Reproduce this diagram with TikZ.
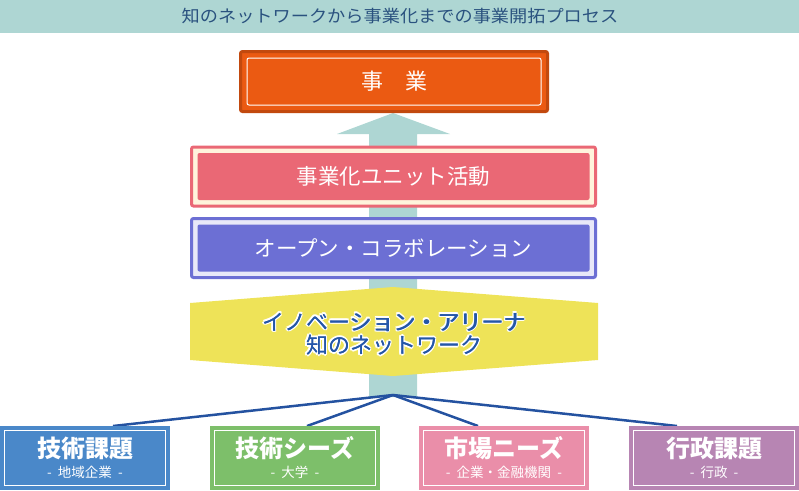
\documentclass[tikz,border=0pt]{standalone}
\usepackage{fontspec}
\setmainfont{Noto Sans CJK JP}
\usetikzlibrary{calc,backgrounds}
\definecolor{arrowteal}{HTML}{AED6D3}
\definecolor{titleblue}{HTML}{2A527F}
\definecolor{bizorange}{HTML}{EB5A12}
\definecolor{bizorangedark}{HTML}{C2490E}
\definecolor{unitred}{HTML}{EA6875}
\definecolor{unitcream}{HTML}{FFF4DC}
\definecolor{collabblue}{HTML}{6C6FD4}
\definecolor{collabring}{HTML}{E8E8F8}
\definecolor{arenayellow}{HTML}{EEE358}
\definecolor{arenatext}{HTML}{2456A8}
\definecolor{linkblue}{HTML}{2452A0}
\definecolor{techblue}{HTML}{4A88C9}
\definecolor{seedgreen}{HTML}{7DBF6A}
\definecolor{marketpink}{HTML}{EA8EA9}
\definecolor{govpurple}{HTML}{B785B3}
\tikzset{
  stagebox/.style 2 args={draw=#1, fill=#2, line width=3pt, rounded corners=2pt,
    outer sep=0pt, inner sep=0pt, minimum width=404pt, minimum height=59pt,
    text=white, font=\fontsize{21.5}{24}\selectfont,
    path picture={\fill[#1] ($(path picture bounding box.north west)+(6,6)$) rectangle ($(path picture bounding box.south east)+(-6,-6)$);}},
  seedbox/.style={fill=#1, outer sep=0pt, inner sep=0pt, minimum width=170pt, minimum height=64pt,
    path picture={\draw[white, line width=0.9pt] ($(path picture bounding box.north west)+(4.5,4.5)$) rectangle ($(path picture bounding box.south east)+(-4.5,-4.5)$);}},
  seedtitle/.style={text=white, inner sep=0pt, font=\fontsize{24}{26}\selectfont\bfseries},
  seedsub/.style={text=white, inner sep=0pt, font=\fontsize{13.5}{15}\selectfont},
  arenafont/.style={inner sep=0pt, align=center, font=\fontsize{22}{23.5}\selectfont},
  link/.style={draw=linkblue, line width=2.5pt}
}
\newcommand{\arenalines}{イノベーション・アリーナ\\知のネットワーク}
\newcommand{\subgap}{\hspace{0.45em}}
\begin{document}
\begin{tikzpicture}[x=1pt,y=-1pt]
\useasboundingbox (0,0) rectangle (799,490);
% title band
\fill[arrowteal] (0,0) rectangle (799,33);
\node[text=titleblue, inner sep=0pt, font=\fontsize{17}{20}\selectfont] (title) at (400,16.5)
  {\scalebox{1.07}[1]{知のネットワークから事業化までの事業開拓プロセス}};
% top box
\node[draw=bizorangedark, fill=bizorange, line width=3pt, rounded corners=2pt, outer sep=0pt, inner sep=0pt,
  minimum width=307pt, minimum height=60pt, text=white, font=\fontsize{22}{24}\selectfont,
  path picture={\draw[white, line width=1pt] ($(path picture bounding box.north west)+(6.5,6.5)$) rectangle ($(path picture bounding box.south east)+(-6.5,-6.5)$);}]
  (biz) at (394,81.5) {事　業};
% stage boxes
\node[stagebox={unitred}{unitcream}] (unit) at (393.5,176.5) {事業化ユニット活動};
\node[stagebox={collabblue}{collabring}] (collab) at (393.5,248) {オープン・コラボレーション};
% arena hexagon
\fill[arenayellow] (190,303) -- (393,287) -- (598,303) -- (598,360) -- (393,376) -- (190,360) -- cycle;
\coordinate (arena) at (394,334);
\foreach \a in {0,45,...,315}{
  \node[arenafont, text=white] (halo\a) at ($(arena)+(\a:1.7)$) {\arenalines};
}
\node[arenafont, text=arenatext] (arenatextb) at ($(arena)+(0.35,0)$) {\arenalines};
\node[arenafont, text=arenatext] (arenatext) at (arena) {\arenalines};
% seed boxes
\node[seedbox=techblue] (tech) at (85,458) {};
\node[seedbox=seedgreen] (seeds) at (295,458) {};
\node[seedbox=marketpink] (market) at (504,458) {};
\node[seedbox=govpurple] (gov) at (714,458) {};
\coordinate (hub) at (393,395);
\begin{pgfonlayer}{background}
\fill[arrowteal] (369,397) -- (369,134) -- (337,134) -- (393,113) -- (450,134) -- (417,134) -- (417,397) -- cycle;
\draw[link] (hub) -- ($(tech.north)+(28,0)$);
\draw[link] (hub) -- ($(seeds.north)+(12,0)$);
\draw[link] (hub) -- ($(market.north)+(-26,0)$);
\draw[link] (hub) -- ($(gov.north)+(-37,0)$);
\end{pgfonlayer}
\node[seedtitle] (techT) at (85,448) {技術課題};
\node[seedsub] (techS) at (85,472) {-\subgap 地域企業\subgap -};
\node[seedtitle] (seedsT) at (295,448) {技術シーズ};
\node[seedsub] (seedsS) at (295,472) {-\subgap 大学\subgap -};
\node[seedtitle] (marketT) at (504,448) {市場ニーズ};
\node[seedsub] (marketS) at (504,472) {-\subgap 企業・金融機関\subgap -};
\node[seedtitle] (govT) at (714,448) {行政課題};
\node[seedsub] (govS) at (714,472) {-\subgap 行政\subgap -};
\end{tikzpicture}
\end{document}
